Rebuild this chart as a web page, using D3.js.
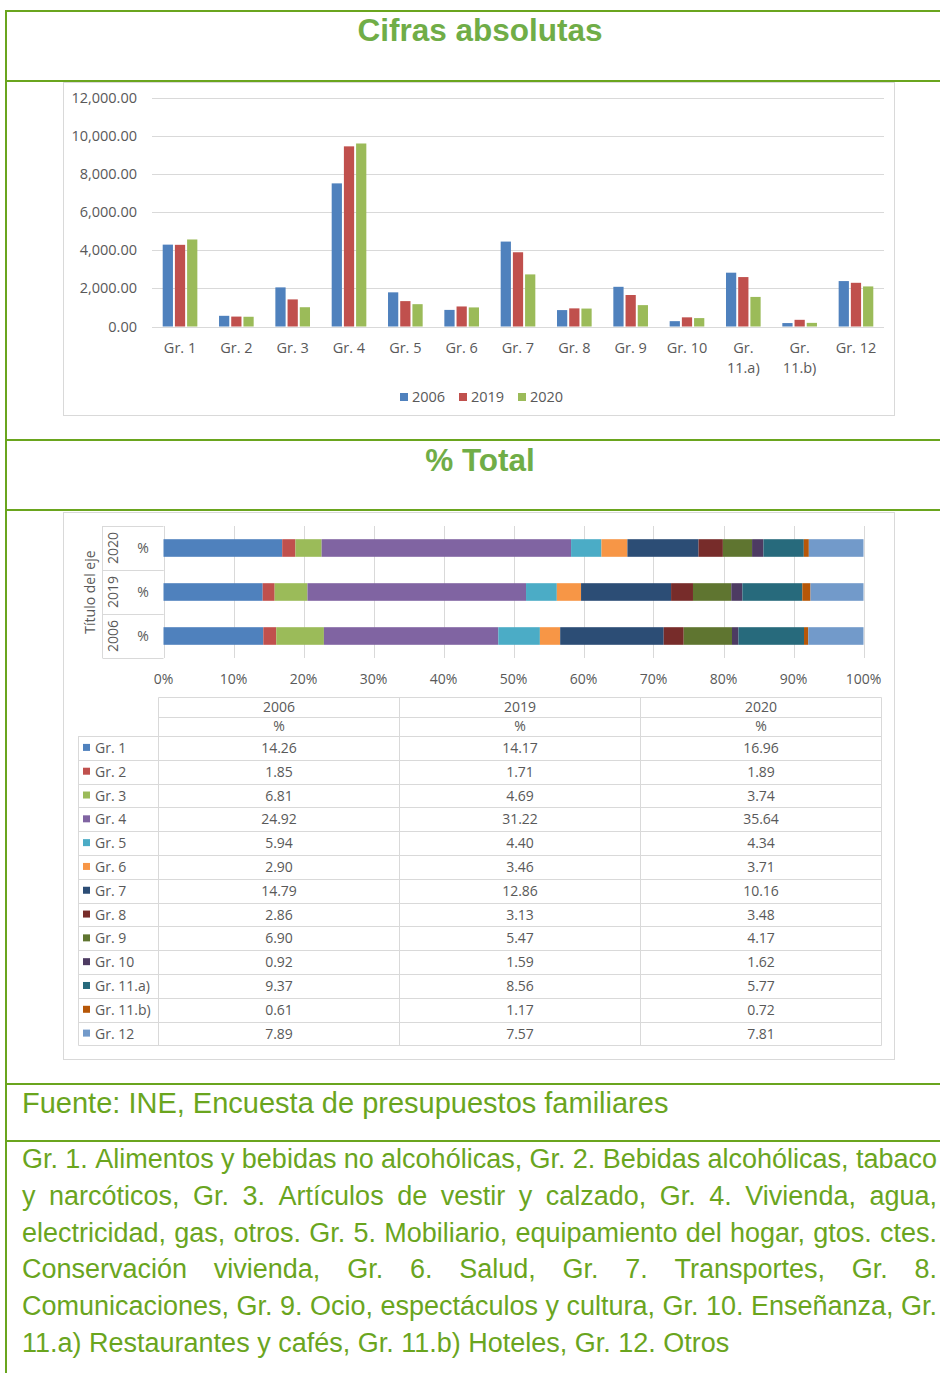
<!DOCTYPE html>
<html><head><meta charset="utf-8">
<script src="https://cdn.jsdelivr.net/npm/d3@7"></script>
<style>body{margin:0;background:#fff} svg{display:block}</style>
</head><body><div id="chart"></div>
<script>
// ---------- DATA ----------
const categories = ["Gr. 1","Gr. 2","Gr. 3","Gr. 4","Gr. 5","Gr. 6","Gr. 7","Gr. 8","Gr. 9","Gr. 10","Gr. 11.a)","Gr. 11.b)","Gr. 12"];
const years = ["2006","2019","2020"];
const abs2006 = [4290, 560, 2050, 7500, 1790, 870, 4450, 860, 2080, 280, 2820, 180, 2380];
const abs2019 = [4280, 520, 1420, 9440, 1330, 1050, 3890, 950, 1650, 480, 2590, 350, 2290];
const abs2020 = [4560, 510, 1010, 9590, 1170, 1000, 2730, 940, 1120, 440, 1550, 190, 2100];
const pct2006 = [14.26,1.85,6.81,24.92,5.94,2.90,14.79,2.86,6.90,0.92,9.37,0.61,7.89];
const pct2019 = [14.17,1.71,4.69,31.22,4.40,3.46,12.86,3.13,5.47,1.59,8.56,1.17,7.57];
const pct2020 = [16.96,1.89,3.74,35.64,4.34,3.71,10.16,3.48,4.17,1.62,5.77,0.72,7.81];
const yTicks = [0,2000,4000,6000,8000,10000,12000];
const pctTicks = [0,10,20,30,40,50,60,70,80,90,100];
const yearColors = ["#4f81bd","#c0504d","#9bbb59"];
const groupColors = ["#4f81bd","#c0504d","#9bbb59","#8064a2","#4bacc6","#f79646","#2c4d75","#772c2a","#5f7530","#4d3b62","#276a7c","#b65708","#729aca"];
const title1 = "Cifras absolutas";
const title2 = "% Total";
const sourceText = "Fuente: INE, Encuesta de presupuestos familiares";
const noteLines = [
  "Gr. 1. Alimentos y bebidas no alcohólicas, Gr. 2. Bebidas alcohólicas, tabaco",
  "y narcóticos, Gr. 3. Artículos de vestir y calzado, Gr. 4. Vivienda, agua,",
  "electricidad, gas, otros. Gr. 5. Mobiliario, equipamiento del hogar, gtos. ctes.",
  "Conservación vivienda, Gr. 6. Salud, Gr. 7. Transportes, Gr. 8.",
  "Comunicaciones, Gr. 9. Ocio, espectáculos y cultura, Gr. 10. Enseñanza, Gr.",
  "11.a) Restaurantes y cafés, Gr. 11.b) Hoteles, Gr. 12. Otros"
];

// ---------- SETUP ----------
const W = 940, H = 1373;
const svg = d3.select("#chart").append("svg").attr("width", W).attr("height", H);
const green = "#6aa51e", titleGreen = "#70ad47", textGray = "#595959", gridGray = "#d9d9d9";
const chartFont = "'Open Sans', sans-serif";
const arial = "'Liberation Sans', Arial, sans-serif";
const fs1 = 14.5, fs2 = 14, fsT = 14;

// frame lines
[11, 81, 440, 510, 1084, 1141].forEach(y => {
  svg.append("line").attr("x1", 5).attr("x2", W).attr("y1", y).attr("y2", y)
    .attr("stroke", green).attr("stroke-width", 2);
});
svg.append("line").attr("x1", 6).attr("x2", 6).attr("y1", 10).attr("y2", H)
  .attr("stroke", green).attr("stroke-width", 2);

// titles
svg.append("text").attr("x", 480).attr("y", 41).attr("text-anchor", "middle")
  .attr("font-family", arial).attr("font-weight", "bold").attr("font-size", 31.5)
  .attr("fill", titleGreen).text(title1);
svg.append("text").attr("x", 480).attr("y", 471).attr("text-anchor", "middle")
  .attr("font-family", arial).attr("font-weight", "bold").attr("font-size", 31.5)
  .attr("fill", titleGreen).text(title2);

// chart boxes
svg.append("rect").attr("x", 63.5).attr("y", 82.5).attr("width", 831).attr("height", 333)
  .attr("fill", "#fff").attr("stroke", gridGray);
svg.append("rect").attr("x", 63.5).attr("y", 512.5).attr("width", 831).attr("height", 547)
  .attr("fill", "#fff").attr("stroke", gridGray);

// ---------- CHART 1: grouped bars ----------
const absSeries = [abs2006, abs2019, abs2020];
const x0 = d3.scaleBand().domain(categories).range([152, 884]).paddingInner(0.385).paddingOuter(0.19);
const x1 = d3.scaleBand().domain(years).range([0, x0.bandwidth()]).paddingInner(0.16);
const y = d3.scaleLinear().domain([0, 12000]).range([326.5, 97.5]);

const g1 = svg.append("g");
g1.selectAll("line.grid").data(yTicks).join("line").attr("class", "grid")
  .attr("x1", 152).attr("x2", 884).attr("y1", d => Math.round(y(d)) + 0.5).attr("y2", d => Math.round(y(d)) + 0.5)
  .attr("stroke", gridGray).attr("stroke-width", 1);
g1.selectAll("text.ytick").data(yTicks).join("text").attr("class", "ytick")
  .attr("x", 137).attr("y", d => y(d) + 5).attr("text-anchor", "end")
  .attr("font-family", chartFont).attr("font-size", fs1).attr("fill", textGray)
  .text(d3.format(",.2f"));

const groups = g1.selectAll("g.cat").data(categories).join("g").attr("class", "cat")
  .attr("transform", d => `translate(${x0(d)},0)`);
groups.selectAll("rect").data((d, i) => years.map((yr, j) => ({yr, j, v: absSeries[j][i]})))
  .join("rect")
  .attr("x", d => x1(d.yr)).attr("width", x1.bandwidth())
  .attr("y", d => y(d.v)).attr("height", d => y(0) - y(d.v))
  .attr("fill", d => yearColors[d.j]);

// x labels
categories.forEach(c => {
  const cx = x0(c) + x0.bandwidth() / 2;
  const parts = c.includes("11.") ? ["Gr.", c.replace("Gr. ", "")] : [c];
  parts.forEach((p, k) => {
    g1.append("text").attr("x", cx).attr("y", 353 + k * 20).attr("text-anchor", "middle")
      .attr("font-family", chartFont).attr("font-size", fs1).attr("fill", textGray).text(p);
  });
});

// legend
const legX = d3.scalePoint().domain(years).range([400, 518]);
years.forEach((yr, j) => {
  g1.append("rect").attr("x", legX(yr)).attr("y", 393).attr("width", 8).attr("height", 8).attr("fill", yearColors[j]);
  g1.append("text").attr("x", legX(yr) + 12).attr("y", 402).attr("font-family", chartFont)
    .attr("font-size", fs1).attr("fill", textGray).text(yr);
});

// ---------- CHART 2: 100% stacked bars ----------
const pctSeries = {"2006": pct2006, "2019": pct2019, "2020": pct2020};
const rows = ["2020","2019","2006"].map(yr => {
  const o = {year: yr};
  categories.forEach((c, i) => o[c] = pctSeries[yr][i]);
  return o;
});
const stack = d3.stack().keys(categories).offset(d3.stackOffsetExpand);
const stacked = stack(rows);
const xp = d3.scaleLinear().domain([0, 1]).range([163.5, 863.5]);
const yp = d3.scaleBand().domain(["2020","2019","2006"]).range([526, 658]).paddingInner(0.6).paddingOuter(0.3);
const ypOuter = d3.scaleBand().domain(["2020","2019","2006"]).range([526, 658]);

const g2 = svg.append("g");
g2.selectAll("line.vgrid").data(pctTicks).join("line").attr("class", "vgrid")
  .attr("x1", d => Math.round(xp(d / 100)) + 0.5).attr("x2", d => Math.round(xp(d / 100)) + 0.5)
  .attr("y1", 526).attr("y2", 658).attr("stroke", gridGray);
g2.selectAll("text.xtick").data(pctTicks).join("text").attr("class", "xtick")
  .attr("x", d => xp(d / 100)).attr("y", 684).attr("text-anchor", "middle")
  .attr("font-family", chartFont).attr("font-size", fs2).attr("fill", textGray)
  .text(d => d + "%");

// multi-level category axis lines
g2.append("line").attr("x1", 102.5).attr("x2", 102.5).attr("y1", 526).attr("y2", 658).attr("stroke", gridGray);
["2020","2019","2006"].forEach((yr, k) => {
  [ypOuter(yr), ypOuter(yr) + ypOuter.bandwidth()].forEach(yy => {
    g2.append("line").attr("x1", 123).attr("x2", 163.5).attr("y1", Math.round(yy) + 0.5).attr("y2", Math.round(yy) + 0.5).attr("stroke", gridGray);
  });
  g2.append("line").attr("x1", 102.5).attr("x2", 123).attr("y1", Math.round(ypOuter(yr)) + 0.5).attr("y2", Math.round(ypOuter(yr)) + 0.5).attr("stroke", gridGray);
  const cy = ypOuter(yr) + ypOuter.bandwidth() / 2;
  g2.append("text").attr("x", 143).attr("y", cy + 5).attr("text-anchor", "middle")
    .attr("font-family", chartFont).attr("font-size", fs2).attr("fill", textGray).text("%");
  g2.append("text").attr("transform", `translate(${118},${cy}) rotate(-90)`).attr("text-anchor", "middle")
    .attr("font-family", chartFont).attr("font-size", fs2).attr("fill", textGray).text(yr);
});
g2.append("line").attr("x1", 102.5).attr("x2", 123).attr("y1", 658.5).attr("y2", 658.5).attr("stroke", gridGray);
g2.append("text").attr("transform", `translate(${95},${592}) rotate(-90)`).attr("text-anchor", "middle")
  .attr("font-family", chartFont).attr("font-size", fs2).attr("fill", textGray).text("Título del eje");

g2.selectAll("g.layer").data(stacked).join("g").attr("class", "layer")
  .attr("fill", (d, i) => groupColors[i])
  .selectAll("rect").data(d => d).join("rect")
  .attr("x", d => xp(d[0])).attr("width", d => xp(d[1]) - xp(d[0]))
  .attr("y", d => yp(d.data.year)).attr("height", yp.bandwidth());

// ---------- DATA TABLE ----------
const tx = d3.scaleBand().domain(years).range([158.5, 881.5]);
const ty = d3.scaleBand().domain(categories).range([736, 1045.5]);
const g3 = svg.append("g");
const tline = (x1_, x2_, y1_, y2_) => g3.append("line").attr("x1", x1_).attr("x2", x2_).attr("y1", y1_).attr("y2", y2_).attr("stroke", gridGray);
[697.5, 717.5].forEach(yy => tline(158.5, 881.5, yy, yy));
categories.forEach(c => tline(78.5, 881.5, Math.round(ty(c)) + 0.5, Math.round(ty(c)) + 0.5));
tline(78.5, 881.5, 1045.5, 1045.5);
tline(78.5, 78.5, 736, 1045.5);
years.forEach(yr => tline(tx(yr), tx(yr), 697.5, 1045.5));
tline(881.5, 881.5, 697.5, 1045.5);

years.forEach(yr => {
  const cx = tx(yr) + tx.bandwidth() / 2;
  g3.append("text").attr("x", cx).attr("y", 712).attr("text-anchor", "middle")
    .attr("font-family", chartFont).attr("font-size", fsT).attr("fill", textGray).text(yr);
  g3.append("text").attr("x", cx).attr("y", 731).attr("text-anchor", "middle")
    .attr("font-family", chartFont).attr("font-size", fsT).attr("fill", textGray).text("%");
  categories.forEach((c, i) => {
    g3.append("text").attr("x", cx).attr("y", ty(c) + ty.bandwidth() / 2 + 5).attr("text-anchor", "middle")
      .attr("font-family", chartFont).attr("font-size", fsT).attr("fill", textGray)
      .text(d3.format(".2f")(pctSeries[yr][i]));
  });
});
categories.forEach((c, i) => {
  const cy = ty(c) + ty.bandwidth() / 2;
  g3.append("rect").attr("x", 83).attr("y", cy - 4).attr("width", 7).attr("height", 7).attr("fill", groupColors[i]);
  g3.append("text").attr("x", 95).attr("y", cy + 5).attr("font-family", chartFont)
    .attr("font-size", fsT).attr("fill", textGray).text(c);
});

// ---------- FOOTER ----------
svg.append("text").attr("x", 22).attr("y", 1113).attr("font-family", arial).attr("font-size", 29)
  .attr("fill", green).text(sourceText);

const lineH = 36.8, left = 22, right = 937, base0 = 1168, fsP = 27;
noteLines.forEach((ln, k) => {
  const yy = base0 + k * lineH;
  const words = ln.split(" ");
  if (k === noteLines.length - 1) {
    svg.append("text").attr("x", left).attr("y", yy).attr("font-family", arial).attr("font-size", fsP)
      .attr("fill", green).text(ln);
    return;
  }
  const tmp = svg.append("g");
  const nodes = words.map(w => tmp.append("text").attr("font-family", arial).attr("font-size", fsP)
    .attr("fill", green).attr("y", yy).text(w));
  const widths = nodes.map(n => n.node().getComputedTextLength());
  const total = d3.sum(widths);
  const gap = (right - left - total) / (words.length - 1);
  let xx = left;
  nodes.forEach((n, i) => { n.attr("x", xx); xx += widths[i] + gap; });
});
</script>
</body></html>
